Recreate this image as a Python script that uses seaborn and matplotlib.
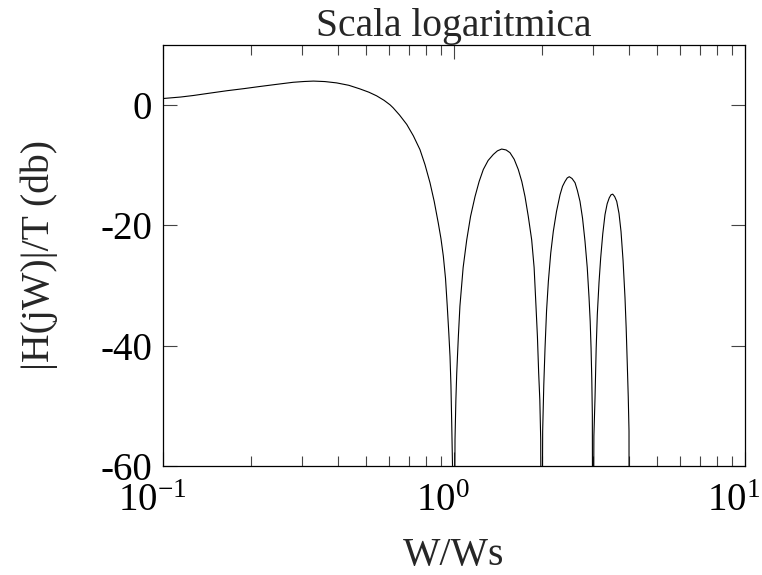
import numpy as np
import pandas as pd
import matplotlib
matplotlib.use("Agg")
import matplotlib.pyplot as plt
import seaborn as sns
from matplotlib.ticker import FixedLocator, FixedFormatter, NullFormatter
from matplotlib.transforms import ScaledTranslation

# Frequency (W/Ws) and magnitude (dB)
w_ratio = [0.100, 0.115, 0.127, 0.145, 0.166, 0.190, 0.215, 0.245, 0.280, 0.305,
           0.329, 0.360, 0.395, 0.435, 0.475, 0.510, 0.542, 0.575, 0.603, 0.618,
           0.650, 0.688, 0.725, 0.764, 0.795, 0.827, 0.855, 0.883, 0.902, 0.919,
           0.935, 0.948, 0.960, 0.969, 0.976, 0.982, 0.990, 1.000,
           1.008, 1.015, 1.022, 1.035, 1.048, 1.075, 1.106, 1.140, 1.181, 1.220,
           1.261, 1.310, 1.365, 1.410, 1.458, 1.510, 1.557, 1.610, 1.663, 1.710,
           1.754, 1.800, 1.849, 1.885, 1.913, 1.935, 1.954, 1.972, 1.986, 2.000,
           2.017, 2.035, 2.055, 2.080, 2.110, 2.150, 2.194, 2.250, 2.314, 2.360,
           2.406, 2.450, 2.490, 2.545, 2.606, 2.655, 2.710, 2.765, 2.819, 2.870,
           2.911, 2.938, 2.958, 2.975, 2.988, 3.000,
           3.025, 3.052, 3.080, 3.108, 3.150, 3.192, 3.245, 3.303, 3.360, 3.417,
           3.465, 3.511, 3.565, 3.624, 3.690, 3.749, 3.810, 3.869, 3.905, 3.940,
           3.970, 3.994, 4.000]
mag_db = [1.1, 1.35, 1.6, 2.0, 2.4, 2.75, 3.1, 3.45, 3.8, 3.93,
          4.0, 3.92, 3.7, 3.3, 2.7, 2.15, 1.55, 0.8, 0.05, -0.45,
          -1.65, -3.2, -5.1, -7.4, -9.9, -12.9, -16.0, -19.6, -22.2, -25.1,
          -28.8, -33.4, -38.0, -41.8, -46.5, -52.8, -62.0, -95.0,
          -55.6, -49.0, -44.5, -38.5, -33.4, -27.0, -22.4, -18.5, -15.2, -12.7,
          -10.7, -9.2, -8.2, -7.6, -7.3, -7.45, -7.9, -9.0, -10.7, -12.7,
          -15.2, -18.5, -22.4, -27.0, -33.4, -38.5, -44.5, -49.0, -55.6, -95.0,
          -54.2, -46.5, -40.4, -34.2, -29.3, -24.6, -21.0, -17.7, -14.9, -13.5,
          -12.7, -12.1, -11.9, -12.2, -12.9, -14.2, -16.0, -18.8, -22.6, -27.0,
          -32.0, -36.0, -40.4, -45.5, -51.5, -95.0,
          -55.0, -48.7, -40.5, -34.8, -29.5, -25.4, -21.4, -18.2, -16.4, -15.4,
          -14.9, -14.8, -15.2, -16.0, -18.0, -21.0, -25.8, -32.0, -37.0, -43.1,
          -48.5, -54.2, -95.0]

title = "Scala logaritmica"
xlabel = "W/Ws"
ylabel = "|H(jW)|/T (db)"
yticks = [0, -20, -40, -60]
xticks = [0.1, 1.0, 10.0]
xtick_labels = [r"$\mathregular{10^{-1}}$", r"$\mathregular{10^{0}}$", r"$\mathregular{10^{1}}$"]
xminor = [m * d for d in (0.1, 1.0) for m in range(2, 10)]

sns.set_theme(style="ticks")
plt.rcParams["font.family"] = ["Liberation Serif", "DejaVu Serif"]
plt.rcParams["mathtext.fontset"] = "custom"
plt.rcParams["mathtext.rm"] = "Liberation Serif"
plt.rcParams["axes.unicode_minus"] = False

df = pd.DataFrame({"w": w_ratio, "db": mag_db})

fig = plt.figure(figsize=(7.62, 5.75), dpi=100)
ax = fig.add_axes([163 / 762, 1 - 466 / 575, (745 - 163) / 762, (466 - 45) / 575])

sns.lineplot(data=df, x="w", y="db", ax=ax, color="black", linewidth=0.8,
             sort=False, estimator=None)

ax.set_xscale("log")
ax.set_xlim(0.1, 10)
ax.set_ylim(-60, 10)
ax.set_yticks(yticks)
ax.set_yticklabels([str(v) for v in yticks])
ax.xaxis.set_major_locator(FixedLocator(xticks))
ax.xaxis.set_major_formatter(FixedFormatter(xtick_labels))
ax.xaxis.set_minor_locator(FixedLocator(xminor))
ax.xaxis.set_minor_formatter(NullFormatter())

for s in ax.spines.values():
    s.set_visible(True)
    s.set_color("black")
    s.set_linewidth(0.9)

ax.tick_params(axis="both", which="major", direction="in", length=10, width=0.8,
               color="#444444", labelsize=28, top=True, right=True,
               labelcolor="black")
ax.tick_params(axis="y", which="major", pad=8)
ax.tick_params(axis="x", which="major", pad=12.5)
ax.tick_params(axis="both", which="minor", direction="in", length=7, width=0.8,
               color="#444444", top=True, right=True)

ax.set_title(title, fontsize=28.5, pad=0)
ax.set_xlabel(xlabel, fontsize=28.5, labelpad=12)
ax.set_ylabel(ylabel, fontsize=28.5, labelpad=30)
ax.grid(False)

shift = ScaledTranslation(-11 / 100, 0, fig.dpi_scale_trans)
for lbl in ax.get_xticklabels():
    lbl.set_transform(lbl.get_transform() + shift)

fig.savefig("out.png", dpi=100)
